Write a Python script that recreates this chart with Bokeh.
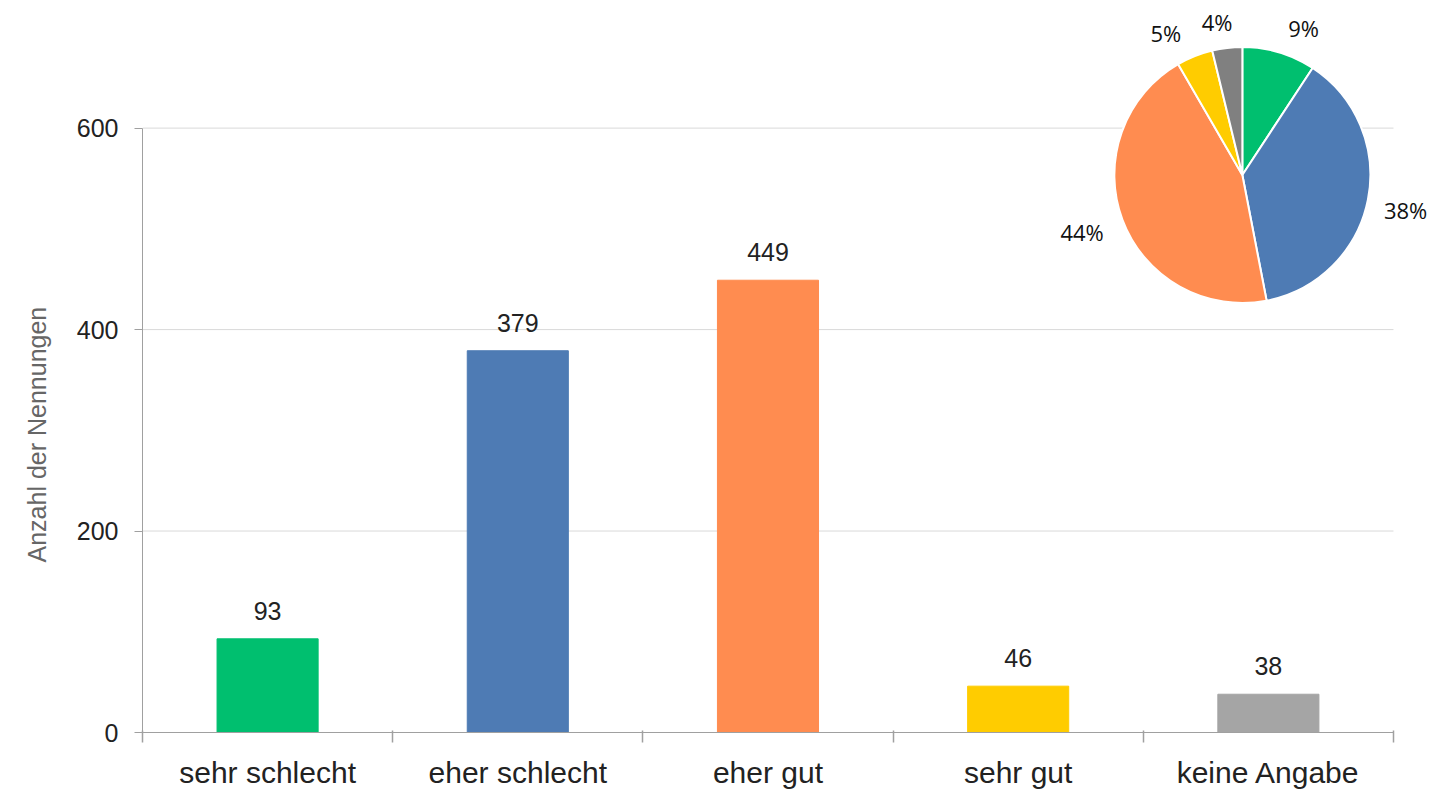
import math
from bokeh.plotting import figure
from bokeh.models import FixedTicker, ColumnDataSource, Range1d, LinearAxis, Title
from bokeh.core.properties import value
from bokeh.embed import file_html
from bokeh.resources import INLINE

categories = ["sehr schlecht", "eher schlecht", "eher gut", "sehr gut", "keine Angabe"]
counts = [93, 379, 449, 46, 38]
bar_colors = ["#00BF6F", "#4E7BB4", "#FF8C50", "#FFCC00", "#A5A5A5"]
pie_colors = ["#00BF6F", "#4E7BB4", "#FF8C50", "#FFCC00", "#808080"]
pie_labels = ["9%", "38%", "44%", "5%", "4%"]
y_ticks = [0, 200, 400, 600]
y_label = "Anzahl der Nennungen"

FONT = "Liberation Sans"
AXIS_GREY = "#A0A0A0"

W, H = 1431, 791
n_cat = len(categories)
p = figure(width=W, height=H, output_backend="svg", toolbar_location=None,
           x_range=Range1d(0, 5.152), y_range=Range1d(0, 726.7),
           min_border_left=142, min_border_right=0, min_border_top=0, min_border_bottom=10)
p.outline_line_color = None
p.xgrid.grid_line_color = None
p.ygrid.grid_line_color = None

# horizontal grid lines limited to the category span
gl = y_ticks[1:]
p.segment(x0=[0] * len(gl), y0=gl, x1=[n_cat] * len(gl), y1=gl,
          line_color="#D9D9D9", line_width=1, level="underlay")

# bars
centers = [i + 0.5 for i in range(n_cat)]
src = ColumnDataSource(dict(x=centers, top=counts, color=bar_colors,
                            lab=[str(c) for c in counts]))
p.vbar(x="x", top="top", width=0.404, color="color", source=src)
p.text(x="x", y="top", text="lab", source=src, text_align="center",
       text_baseline="middle", y_offset=-28, text_font=value(FONT),
       text_font_size="25px", text_color="#222222")

# y axis
ya = p.yaxis[0]
ya.ticker = FixedTicker(ticks=y_ticks)
ya.bounds = (y_ticks[0], y_ticks[-1])
ya.axis_line_color = AXIS_GREY
ya.major_tick_line_color = AXIS_GREY
ya.major_tick_out = 8
ya.major_tick_in = 0
ya.minor_tick_line_color = None
ya.major_label_text_font = FONT
ya.major_label_text_font_size = "25px"
ya.major_label_text_color = "#222222"
ya.major_label_standoff = 16

# y axis title, positioned along the 0..600 span
yt = Title(text=y_label, align="left", vertical_align="top", text_font=FONT,
           text_font_size="25px", text_font_style="normal", text_color="#666666",
           standoff=42, offset=170)
p.add_layout(yt, "left")

# x axis: tick marks at category boundaries
boundaries = list(range(n_cat + 1))
xa = p.xaxis[0]
xa.ticker = FixedTicker(ticks=boundaries)
xa.bounds = (0, n_cat)
xa.major_label_overrides = {b: "" for b in boundaries}
xa.major_label_text_font_size = "0px"
xa.major_label_standoff = 0
xa.axis_line_color = AXIS_GREY
xa.major_tick_line_color = AXIS_GREY
xa.major_tick_line_width = 1.5
xa.major_tick_out = 10
xa.major_tick_in = 2
xa.minor_tick_line_color = None

# category labels at the centres
xa2 = LinearAxis(ticker=FixedTicker(ticks=centers),
                 major_label_overrides={c: categories[i] for i, c in enumerate(centers)})
xa2.axis_line_color = None
xa2.major_tick_line_color = None
xa2.minor_tick_line_color = None
xa2.major_label_text_font = FONT
xa2.major_label_text_font_size = "30px"
xa2.major_label_text_color = "#222222"
xa2.major_label_standoff = 7
p.add_layout(xa2, "below")

# pie
total = sum(counts)
starts, ends, mids = [], [], []
cum = 0.0
for c in counts:
    a0 = math.pi / 2 - 2 * math.pi * cum / total
    cum += c
    a1 = math.pi / 2 - 2 * math.pi * cum / total
    starts.append(a0)
    ends.append(a1)
    mids.append((a0 + a1) / 2)
pcx, pcy = 4.396, 553.5
R = 128
n = len(counts)
psrc = ColumnDataSource(dict(x=[pcx] * n, y=[pcy] * n, s=starts, e=ends, color=pie_colors))
p.wedge(x="x", y="y", radius=R, radius_units="screen", start_angle="s", end_angle="e",
        direction="clock", fill_color="color", line_color="white", line_width=2, source=psrc)
label_r = [159, 167, 170, 161, 155]
label_turn = [-6.0, -1.0, -1.0, 6.5, 2.6]   # degrees, label nudges
la = [m + math.radians(t) for m, t in zip(mids, label_turn)]
lsrc = ColumnDataSource(dict(x=[pcx] * n, y=[pcy] * n, t=pie_labels,
                             xo=[r * math.cos(a) for r, a in zip(label_r, la)],
                             yo=[-r * math.sin(a) for r, a in zip(label_r, la)]))
p.text(x="x", y="y", text="t", x_offset="xo", y_offset="yo", source=lsrc,
       text_align="center", text_baseline="middle", text_font=value("Open Sans"),
       text_font_size="22px", text_color="#111111")

open("out.html", "w").write(file_html(p, INLINE))
